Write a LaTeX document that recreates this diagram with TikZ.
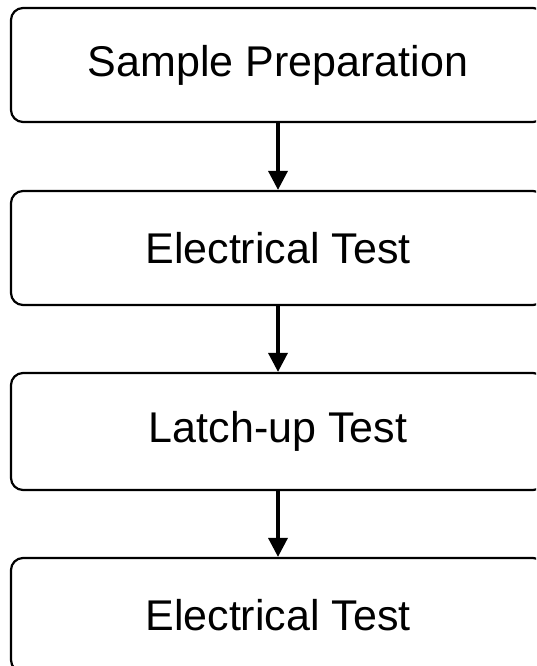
\documentclass[tikz,border=0pt]{standalone}
\usepackage{fontspec}
\setmainfont{Liberation Sans}
\usetikzlibrary{arrows.meta}
\begin{document}
\begin{tikzpicture}[x=1pt,y=1pt,
  stepbox/.style={draw=black, line width=2.2pt, rounded corners=12pt,
    minimum width=534pt, minimum height=114pt, inner sep=0pt,
    font=\fontsize{43}{48}\selectfont},
  flow/.style={line width=3.5pt, -{Triangle[length=19pt,width=19pt]}}]
\useasboundingbox (0,0) rectangle (536,-666);
\begin{scope}
\clip (0,0) rectangle (536,-666);
\node[stepbox] (a) at (278,-65) {Sample Preparation};
\node[stepbox] (b) at (278,-248) {Electrical Test};
\node[stepbox, minimum height=117pt] (c) at (278,-431.5) {Latch-up Test};
\node[stepbox] (d) at (278,-615) {Electrical Test};
\draw[flow] (a.south) -- (b.north);
\draw[flow] (b.south) -- (c.north);
\draw[flow] (c.south) -- (d.north);
\end{scope}
\end{tikzpicture}
\end{document}
